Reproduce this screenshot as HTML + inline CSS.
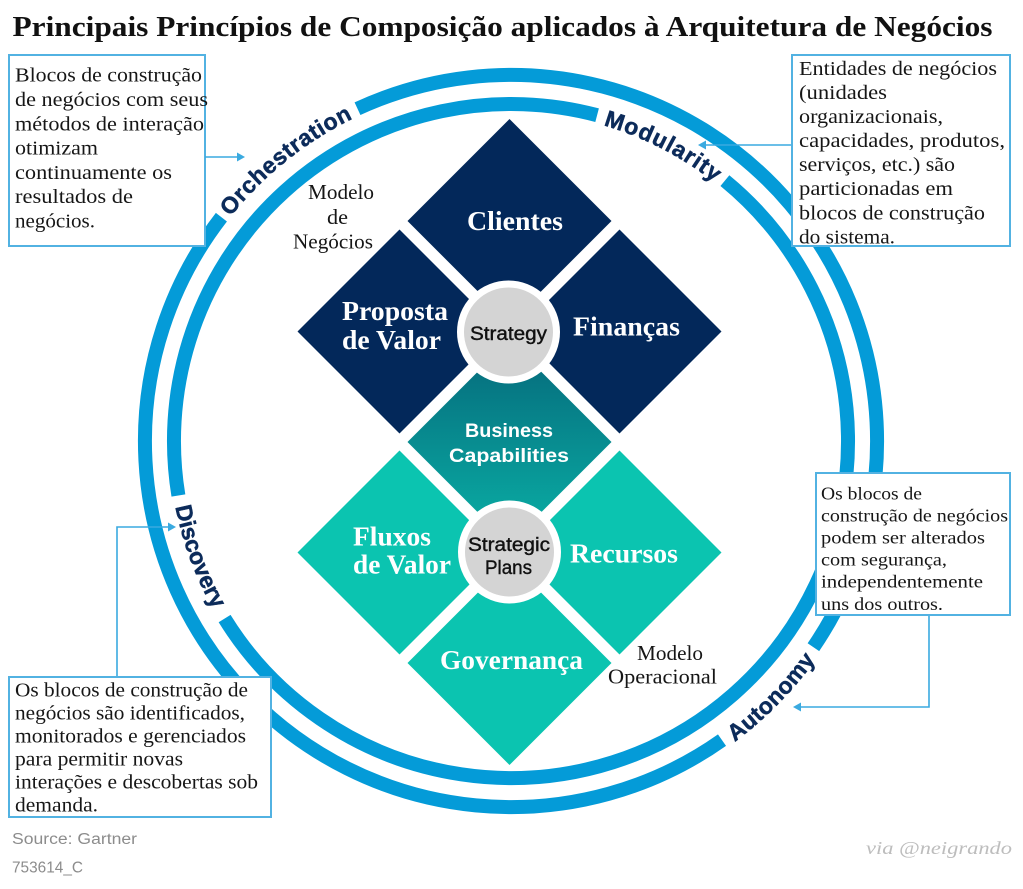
<!DOCTYPE html>
<html>
<head>
<meta charset="utf-8">
<style>
  html,body{margin:0;padding:0;background:#fff;}
  svg{display:block;}
  .box{font-family:"Liberation Serif",serif;fill:#161616;}
  .ring{font-family:"Liberation Sans",sans-serif;font-weight:bold;font-size:23px;fill:#0c2b5a;stroke:#0c2b5a;stroke-width:0.5;}
  .dl{font-family:"Liberation Serif",serif;font-weight:bold;font-size:27px;fill:#fff;}
  .ml{font-family:"Liberation Serif",serif;font-size:21px;fill:#161616;}
</style>
</head>
<body>
<svg width="1023" height="889" viewBox="0 0 1023 889" xmlns="http://www.w3.org/2000/svg">
  <defs>
    <linearGradient id="bc" x1="0" y1="341" x2="0" y2="543" gradientUnits="userSpaceOnUse">
      <stop offset="0" stop-color="#05687a"/>
      <stop offset="1" stop-color="#0ab0a6"/>
    </linearGradient>
    <path id="pOrch" d="M156.1,495.3 A359,359 0 0,1 641.4,106.5"/>
    <path id="pMod" d="M333.3,164.1 A329,329 0 0,1 839.6,425.5"/>
    <path id="pDisc" d="M247.9,222.5 A342,342 0 0,0 453.4,778.1"/>
    <path id="pAuto" d="M417.1,804.0 A375,375 0 0,0 872.4,340.8"/>
  </defs>

  <rect width="1023" height="889" fill="#fff"/>

  <!-- Title -->
  <text x="12.5" y="36" font-family="Liberation Serif, serif" font-weight="bold" font-size="28" fill="#111" textLength="980" lengthAdjust="spacingAndGlyphs">Principais Princípios de Composição aplicados à Arquitetura de Negócios</text>

  <!-- Rings -->
  <g fill="none" stroke="#049bd8" stroke-width="14" stroke-linecap="butt">
    <path d="M357.5,108.7 A366,366 0 0,1 813.4,647.2"/>
    <path d="M722.0,740.1 A366,366 0 0,1 221.4,217.2"/>
    <path d="M724.9,180.6 A337,337 0 1,1 224.6,618.6"/>
    <path d="M178.4,495.5 A337,337 0 0,1 597.1,115.2"/>
  </g>

  <!-- Ring labels -->
  <text class="ring" letter-spacing="0.6"><textPath href="#pOrch" startOffset="50%" text-anchor="middle">Orchestration</textPath></text>
  <text class="ring" letter-spacing="1.0"><textPath href="#pMod" startOffset="50%" text-anchor="middle">Modularity</textPath></text>
  <text class="ring" letter-spacing="0"><textPath href="#pDisc" startOffset="50%" text-anchor="middle">Discovery</textPath></text>
  <text class="ring" letter-spacing="0.3"><textPath href="#pAuto" startOffset="50%" text-anchor="middle">Autonomy</textPath></text>

  <!-- Diamonds -->
  <g>
    <polygon points="509.5,119 611.5,221 509.5,323 407.5,221" fill="#03285a"/>
    <polygon points="399.5,229.5 501.5,331.5 399.5,433.5 297.5,331.5" fill="#03285a"/>
    <polygon points="619.5,229.5 721.5,331.5 619.5,433.5 517.5,331.5" fill="#03285a"/>
    <polygon points="509.5,340 611.5,442 509.5,544 407.5,442" fill="url(#bc)"/>
    <polygon points="399.5,450.5 501.5,552.5 399.5,654.5 297.5,552.5" fill="#0bc4b0"/>
    <polygon points="619.5,450.5 721.5,552.5 619.5,654.5 517.5,552.5" fill="#0bc4b0"/>
    <polygon points="509.5,561 611.5,663 509.5,765 407.5,663" fill="#0bc4b0"/>
  </g>

  <!-- Center circles -->
  <circle cx="508.5" cy="332" r="48" fill="#d4d4d4" stroke="#fff" stroke-width="7"/>
  <circle cx="509.5" cy="552" r="48" fill="#d4d4d4" stroke="#fff" stroke-width="7"/>

  <!-- Diamond labels -->
  <text class="dl" x="467" y="230" textLength="96" lengthAdjust="spacingAndGlyphs">Clientes</text>
  <text class="dl" x="342" y="320" textLength="106" lengthAdjust="spacingAndGlyphs">Proposta</text>
  <text class="dl" x="342" y="349" textLength="99" lengthAdjust="spacingAndGlyphs">de Valor</text>
  <text class="dl" x="573" y="335.5" textLength="107" lengthAdjust="spacingAndGlyphs">Finanças</text>
  <text class="dl" x="353" y="545.5" textLength="78" lengthAdjust="spacingAndGlyphs">Fluxos</text>
  <text class="dl" x="353" y="573.5" textLength="98" lengthAdjust="spacingAndGlyphs">de Valor</text>
  <text class="dl" x="570" y="562.5" textLength="108" lengthAdjust="spacingAndGlyphs">Recursos</text>
  <text class="dl" x="440" y="669" textLength="143" lengthAdjust="spacingAndGlyphs">Governança</text>

  <g font-family="Liberation Sans, sans-serif" font-weight="bold" font-size="19" fill="#fff">
    <text x="465" y="437" textLength="88" lengthAdjust="spacingAndGlyphs">Business</text>
    <text x="449" y="462" textLength="120" lengthAdjust="spacingAndGlyphs">Capabilities</text>
  </g>
  <g font-family="Liberation Sans, sans-serif" font-size="19" fill="#111" stroke="#111" stroke-width="0.4">
    <text x="470" y="340" textLength="77" lengthAdjust="spacingAndGlyphs">Strategy</text>
    <text x="468" y="551" textLength="82" lengthAdjust="spacingAndGlyphs">Strategic</text>
    <text x="485" y="574" textLength="47" lengthAdjust="spacingAndGlyphs">Plans</text>
  </g>

  <!-- Model labels -->
  <text class="ml" x="308" y="199" textLength="66" lengthAdjust="spacingAndGlyphs">Modelo</text>
  <text class="ml" x="327" y="224" textLength="21" lengthAdjust="spacingAndGlyphs">de</text>
  <text class="ml" x="293" y="248.3" textLength="80" lengthAdjust="spacingAndGlyphs">Negócios</text>
  <text class="ml" x="637" y="660" textLength="66" lengthAdjust="spacingAndGlyphs">Modelo</text>
  <text class="ml" x="608" y="683.3" textLength="109" lengthAdjust="spacingAndGlyphs">Operacional</text>

  <!-- Boxes -->
  <g fill="#fff" stroke="#52b2e2" stroke-width="2">
    <rect x="9" y="55" width="196" height="191"/>
    <rect x="792" y="55" width="218" height="191"/>
    <rect x="816" y="473" width="194" height="142"/>
    <rect x="9" y="677" width="262" height="140"/>
  </g>

  <!-- Connectors -->
  <g fill="none" stroke="#3aaae0" stroke-width="1.6">
    <line x1="205" y1="157" x2="238" y2="157"/>
    <line x1="791" y1="145" x2="705" y2="145"/>
    <polyline points="929,616 929,707 800,707"/>
    <polyline points="117,676 117,527 169,527"/>
  </g>
  <g fill="#3aaae0">
    <polygon points="245,157 237,152.5 237,161.5"/>
    <polygon points="698,145 706,140.5 706,149.5"/>
    <polygon points="793,707 801,702.5 801,711.5"/>
    <polygon points="176,527 168,522.5 168,531.5"/>
  </g>

  <!-- Box texts: top-left -->
  <g class="box" font-size="20">
    <text x="15" y="81.7" textLength="187" lengthAdjust="spacingAndGlyphs">Blocos de construção</text>
    <text x="15" y="106" textLength="193" lengthAdjust="spacingAndGlyphs">de negócios  com seus</text>
    <text x="15" y="130.3" textLength="189" lengthAdjust="spacingAndGlyphs">métodos de interação</text>
    <text x="15" y="154.6" textLength="83" lengthAdjust="spacingAndGlyphs">otimizam</text>
    <text x="15" y="178.9" textLength="157" lengthAdjust="spacingAndGlyphs">continuamente os</text>
    <text x="15" y="203.2" textLength="118" lengthAdjust="spacingAndGlyphs">resultados de</text>
    <text x="15" y="227.5" textLength="80" lengthAdjust="spacingAndGlyphs">negócios.</text>
  </g>

  <!-- Box texts: top-right -->
  <g class="box" font-size="20">
    <text x="799" y="75" textLength="198" lengthAdjust="spacingAndGlyphs">Entidades de negócios</text>
    <text x="799" y="99" textLength="88" lengthAdjust="spacingAndGlyphs">(unidades</text>
    <text x="799" y="123.1" textLength="144" lengthAdjust="spacingAndGlyphs">organizacionais,</text>
    <text x="799" y="147.1" textLength="206" lengthAdjust="spacingAndGlyphs">capacidades, produtos,</text>
    <text x="799" y="171.2" textLength="156" lengthAdjust="spacingAndGlyphs">serviços, etc.) são</text>
    <text x="799" y="195.2" textLength="154" lengthAdjust="spacingAndGlyphs">particionadas em</text>
    <text x="799" y="219.3" textLength="186" lengthAdjust="spacingAndGlyphs">blocos de construção</text>
    <text x="799" y="243.3" textLength="96" lengthAdjust="spacingAndGlyphs">do sistema.</text>
  </g>

  <!-- Box texts: right-middle -->
  <g class="box" font-size="18">
    <text x="821" y="499.3" textLength="101" lengthAdjust="spacingAndGlyphs">Os blocos de</text>
    <text x="821" y="521.4" textLength="187" lengthAdjust="spacingAndGlyphs">construção de negócios</text>
    <text x="821" y="543.5" textLength="164" lengthAdjust="spacingAndGlyphs">podem ser alterados</text>
    <text x="821" y="565.6" textLength="126" lengthAdjust="spacingAndGlyphs">com segurança,</text>
    <text x="821" y="587.7" textLength="162" lengthAdjust="spacingAndGlyphs">independentemente</text>
    <text x="821" y="609.8" textLength="122" lengthAdjust="spacingAndGlyphs">uns dos outros.</text>
  </g>

  <!-- Box texts: bottom-left -->
  <g class="box" font-size="20">
    <text x="15" y="696.7" textLength="233" lengthAdjust="spacingAndGlyphs">Os blocos de construção de</text>
    <text x="15" y="719.7" textLength="230" lengthAdjust="spacingAndGlyphs">negócios são identificados,</text>
    <text x="15" y="742.7" textLength="231" lengthAdjust="spacingAndGlyphs">monitorados e gerenciados</text>
    <text x="15" y="765.7" textLength="168" lengthAdjust="spacingAndGlyphs">para permitir novas</text>
    <text x="15" y="788.7" textLength="243" lengthAdjust="spacingAndGlyphs">interações e descobertas sob</text>
    <text x="15" y="811.7" textLength="83" lengthAdjust="spacingAndGlyphs">demanda.</text>
  </g>

  <!-- Footer -->
  <g font-family="Liberation Sans, sans-serif" font-size="15.5" fill="#8c8c8c">
    <text x="12" y="844" textLength="125" lengthAdjust="spacingAndGlyphs">Source: Gartner</text>
    <text x="12" y="872.3" textLength="71" lengthAdjust="spacingAndGlyphs">753614_C</text>
  </g>
  <text x="866" y="854" font-family="Liberation Serif, serif" font-style="italic" font-size="18" fill="#bdbdbd" textLength="146" lengthAdjust="spacingAndGlyphs">via @neigrando</text>
</svg>
</body>
</html>
